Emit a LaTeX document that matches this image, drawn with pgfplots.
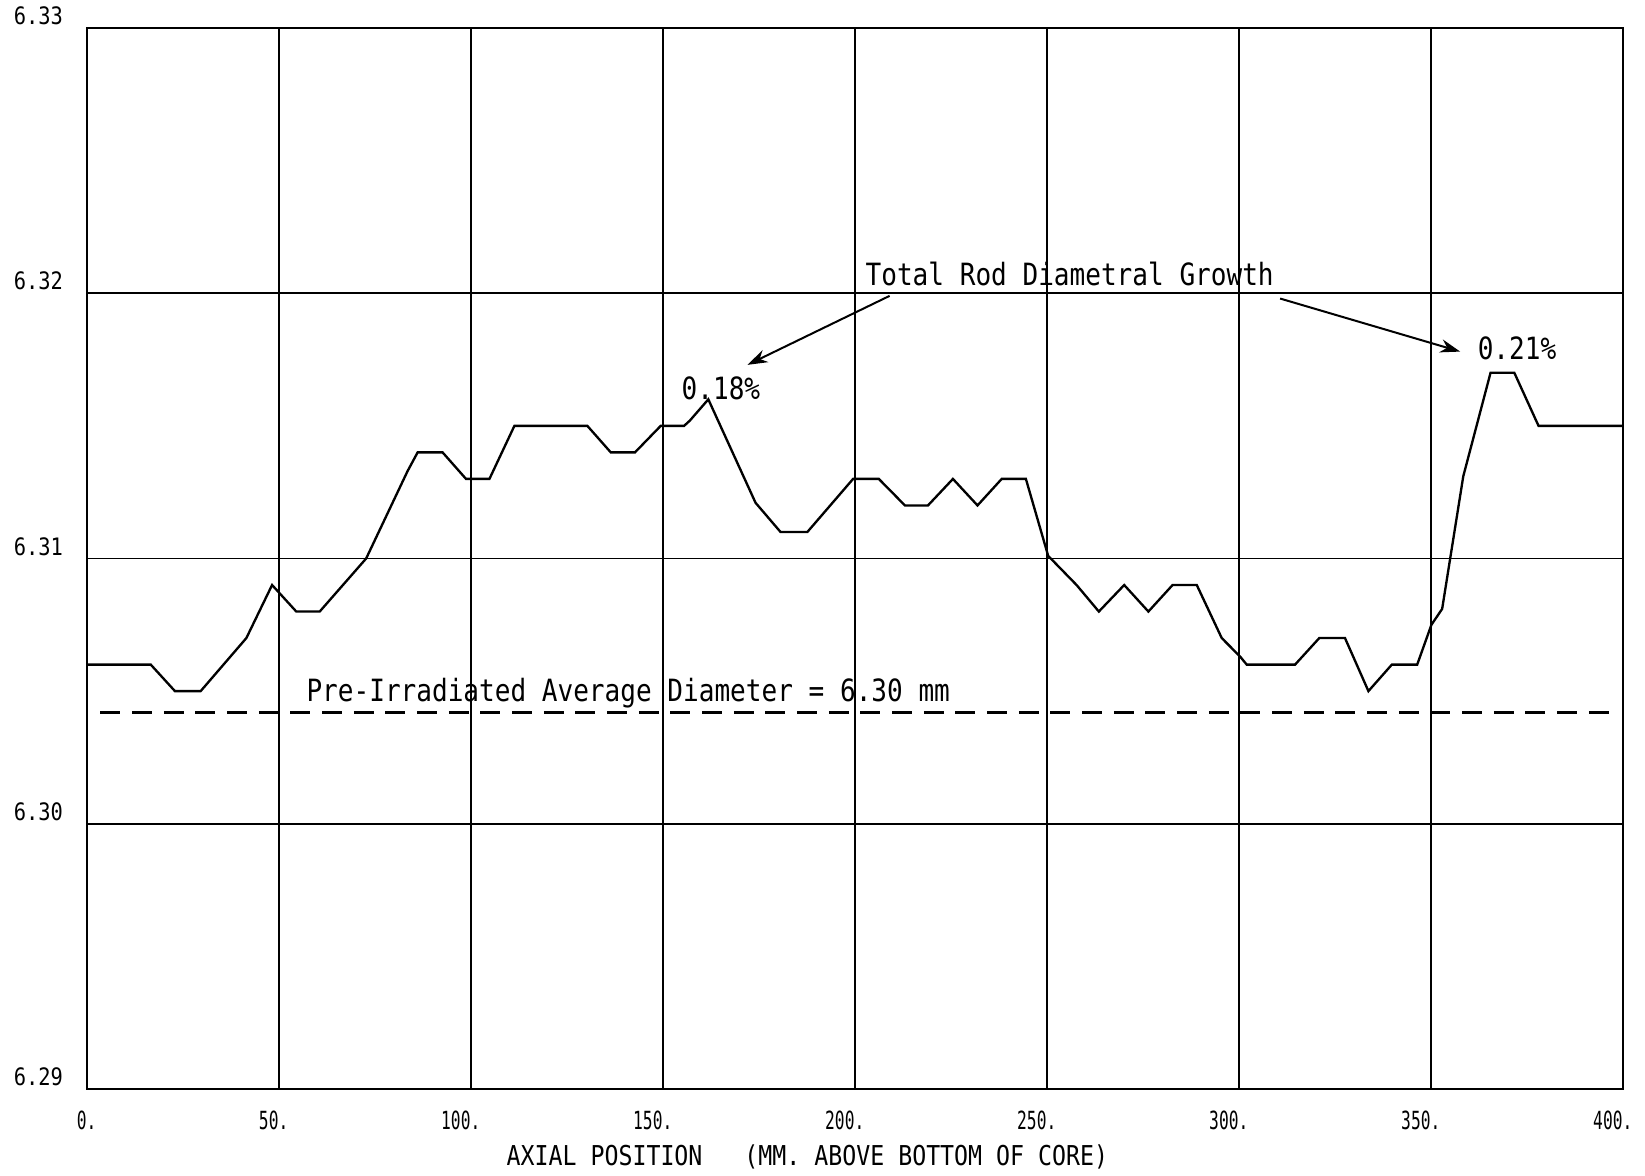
\documentclass[border=0pt]{standalone}
\usepackage{pgfplots}
\pgfplotsset{compat=1.18}
\usepackage{fontspec}
\usetikzlibrary{arrows.meta}
\setmainfont{DejaVu Sans}
\newfontfamily\plotfont{DejaVu Sans Mono}[FakeStretch=0.85]
\newfontfamily\tickfont{DejaVu Sans Mono}[FakeStretch=0.65]
\begin{document}
\begin{tikzpicture}
\begin{axis}[name=ax, scale only axis, width=460.8pt, height=318.3pt,
  xmin=0, xmax=400, ymin=6.29, ymax=6.33,
  xtick={0,50,100,150,200,250,300,350,400},
  xticklabels={0.,50.,100.,150.,200.,250.,300.,350.,400.},
  ytick={6.29,6.30,6.31,6.32,6.33},
  yticklabels={6.29,6.30,6.31,6.32,6.33},
  grid=major, major grid style={black, line width=0.55pt},
  axis line style={black, line width=0.8pt},
  major tick length=0pt,
  xticklabel style={font=\tickfont\fontsize{7.5}{8}\selectfont, anchor=north east, inner sep=0pt, yshift=-6.3pt, xshift=3pt},
  yticklabel style={font=\plotfont\fontsize{7.2}{8}\selectfont, anchor=base east, inner sep=0pt, xshift=-7pt, yshift=1pt},
  xlabel={AXIAL POSITION\ \ \ (MM. ABOVE BOTTOM OF CORE)},
  xlabel style={font=\plotfont\fontsize{8.2}{9}\selectfont, at={(axis description cs:0.469,-0.0641)}, anchor=center},
  clip=false]
\addplot[black, line width=0.7pt] coordinates {
(0,6.306) (16.6,6.306) (22.9,6.305) (29.6,6.305) (41.5,6.307) (48.2,6.309)
(54.5,6.308) (60.6,6.308) (72.7,6.310) (83.5,6.3133) (86.1,6.314) (92.6,6.314)
(98.7,6.313) (104.8,6.313) (111.3,6.315) (130.3,6.315) (136.4,6.314) (142.7,6.314)
(149.4,6.315) (155.5,6.315) (157,6.3152) (161.8,6.316) (174.1,6.3121) (180.6,6.311) (187.6,6.311)
(199.5,6.313) (206.2,6.313) (213,6.312) (219,6.312) (225.5,6.313) (231.9,6.312)
(238.2,6.313) (244.5,6.313) (250.3,6.3101) (257.7,6.309) (263.5,6.308) (270.1,6.309)
(276.4,6.308) (282.7,6.309) (289,6.309) (295.5,6.307) (300.3,6.3063) (302,6.306) (314.6,6.306)
(320.9,6.307) (327.6,6.307) (333.7,6.305) (339.8,6.306) (346.4,6.306) (350.1,6.3075)
(352.9,6.3081) (358.4,6.3131) (365.5,6.317) (371.7,6.317) (378,6.315) (400,6.315)
};
\addplot[black, line width=0.7pt, dash pattern=on 6pt off 3.5pt] coordinates {(3.5,6.3042) (397,6.3042)};
\node[anchor=base west, inner sep=0pt, font=\plotfont\fontsize{9.2}{10}\selectfont] at (axis cs:202.6,6.3203) {Total Rod Diametral Growth};
\node[anchor=base west, inner sep=0pt, font=\plotfont\fontsize{9.2}{10}\selectfont] at (axis cs:154.7,6.3160) {0.18\%};
\node[anchor=base west, inner sep=0pt, font=\plotfont\fontsize{9.2}{10}\selectfont] at (axis cs:362.0,6.3175) {0.21\%};
\node[anchor=base west, inner sep=0pt, font=\plotfont\fontsize{9.2}{10}\selectfont] at (axis cs:57.0,6.3046) {Pre-Irradiated Average Diameter = 6.30 mm};
\draw[black, line width=0.6pt, -{Stealth[length=6pt,width=4pt]}] (axis cs:209.0,6.3199) -- (axis cs:172.0,6.3173);
\draw[black, line width=0.6pt, -{Stealth[length=6pt,width=4pt]}] (axis cs:310.7,6.3198) -- (axis cs:357.6,6.3178);
\end{axis}
\pgfresetboundingbox
\path ([xshift=-26.1pt,yshift=-25.8pt]ax.south west) rectangle ([xshift=6.6pt,yshift=8.4pt]ax.north east);
\end{tikzpicture}
\end{document}
